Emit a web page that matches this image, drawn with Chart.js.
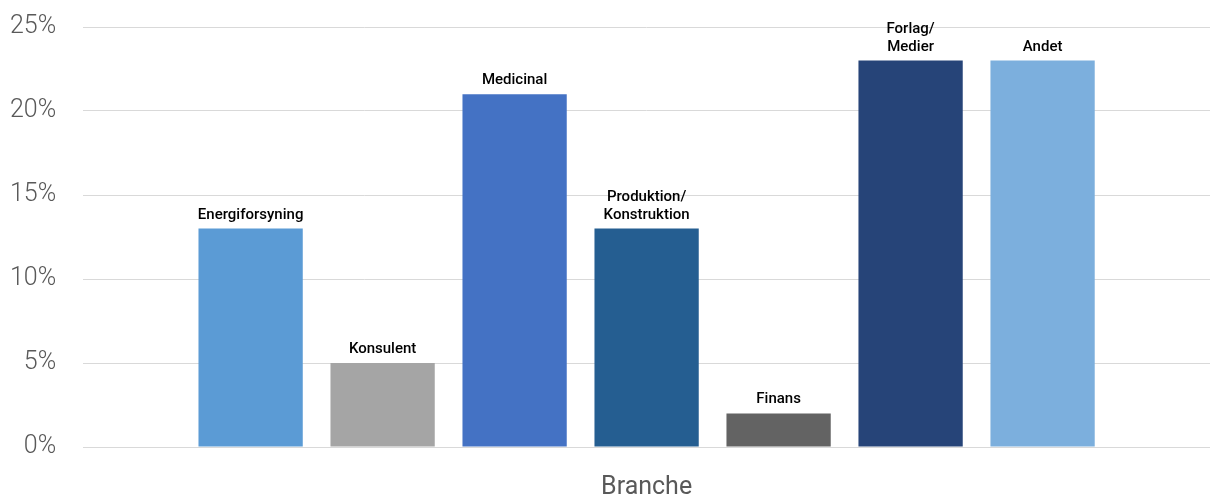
<!DOCTYPE html>
<html>
<head>
<meta charset="utf-8">
<script src="https://cdn.jsdelivr.net/npm/chart.js@4/dist/chart.umd.min.js"></script>
<style>
  html, body { margin: 0; padding: 0; background: #ffffff; }
  #wrap { width: 1210px; height: 498px; position: relative; }
</style>
</head>
<body>
<div id="wrap"><canvas id="c"></canvas></div>
<script>
const categories = ["Branche"];
const seriesNames = [["Energiforsyning"], ["Konsulent"], ["Medicinal"], ["Produktion/", "Konstruktion"], ["Finans"], ["Forlag/", "Medier"], ["Andet"]];
const seriesValues = [13, 5, 21, 13, 2, 23, 23];
const seriesColors = ["#5B9BD5", "#A5A5A5", "#4472C4", "#255E91", "#636363", "#264478", "#7CAFDD"];
const yTicks = [0, 5, 10, 15, 20, 25];

const datasets = seriesNames.map((n, i) => ({
  label: n.join(" "),
  nameLines: n,
  data: [seriesValues[i]],
  backgroundColor: seriesColors[i],
  categoryPercentage: 0.82,
  barPercentage: 0.79
}));

const barLabels = {
  id: 'barLabels',
  afterDatasetsDraw(chart) {
    const ctx = chart.ctx;
    ctx.save();
    ctx.font = '500 15px Roboto';
    ctx.fillStyle = '#000000';
    ctx.textAlign = 'center';
    ctx.textBaseline = 'alphabetic';
    chart.data.datasets.forEach((ds, i) => {
      const el = chart.getDatasetMeta(i).data[0];
      const lines = ds.nameLines;
      let y = el.y - 10;
      for (let k = lines.length - 1; k >= 0; k--) {
        ctx.fillText(lines[k], el.x, y);
        y -= 18;
      }
    });
    ctx.restore();
  }
};

new Chart(document.getElementById('c'), {
  type: 'bar',
  data: { labels: categories, datasets },
  plugins: [barLabels],
  options: {
    responsive: true,
    maintainAspectRatio: false,
    animation: false,
    layout: { padding: { top: 27, right: 0, left: -17, bottom: -5 } },
    plugins: { legend: { display: false }, tooltip: { enabled: false } },
    scales: {
      x: {
        grid: { display: false, drawTicks: false },
        border: { display: true, color: '#d9d9d9' },
        ticks: { display: false },
        title: { display: true, text: 'Branche', color: '#595959', font: { family: 'Roboto', size: 25, weight: '400' }, padding: { top: 26, bottom: 0 } }
      },
      y: {
        min: 0, max: 25,
        afterBuildTicks(axis) { axis.ticks = yTicks.map(v => ({ value: v })); },
        afterFit(s) { s.paddingTop = 0; s.paddingBottom = 0; },
        grid: { color: '#d9d9d9', drawTicks: false, lineWidth: 1 },
        border: { display: false },
        ticks: {
          color: '#595959',
          font: { family: 'Roboto', size: 25, weight: '300' },
          padding: 27,
          callback: v => v + '%'
        }
      }
    }
  }
});
</script>
</body>
</html>
